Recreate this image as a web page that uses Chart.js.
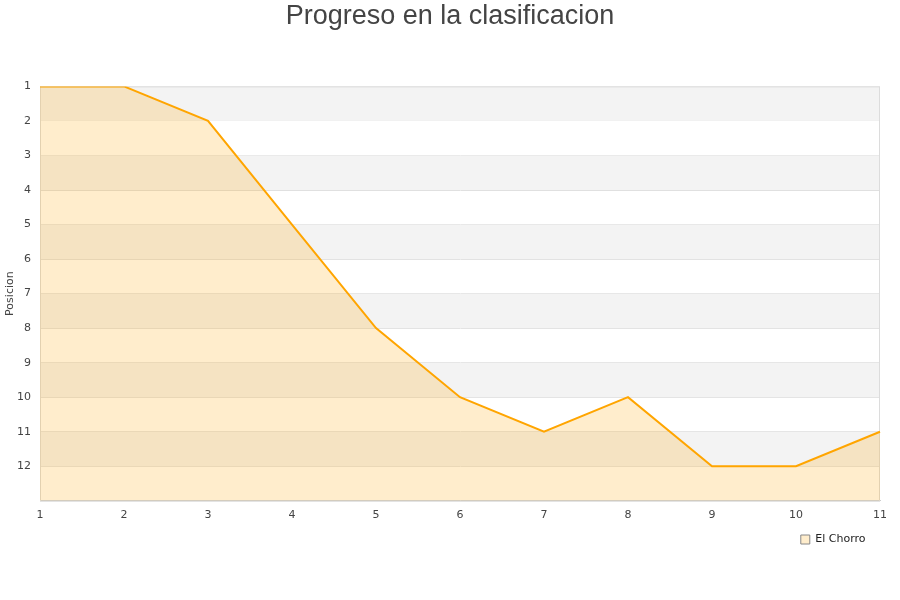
<!DOCTYPE html>
<html>
<head>
<meta charset="utf-8">
<script src="https://cdn.jsdelivr.net/npm/chart.js@4"></script>
<style>
html,body{margin:0;padding:0;background:#fff;}
#wrap{width:900px;height:600px;position:relative;}
</style>
</head>
<body>
<div id="wrap"><canvas id="c" width="900" height="600"></canvas></div>
<script>
const jornadas = [1, 2, 3, 4, 5, 6, 7, 8, 9, 10, 11];
const posiciones = [1, 1, 2, 5, 8, 10, 11, 10, 12, 12, 11];
const serieNombre = 'El Chorro';
const titulo = 'Progreso en la clasificacion';
const ejeY = 'Posicion';

const bandPlugin = {
  id: 'bands',
  beforeDatasetsDraw(chart) {
    const {ctx, chartArea, scales} = chart;
    const y = scales.y;
    ctx.save();
    for (let v = y.min; v < y.max; v++) {
      if ((v - y.min) % 2 === 0) {
        const p1 = y.getPixelForValue(v);
        const p2 = y.getPixelForValue(v + 1);
        ctx.fillStyle = '#f3f3f3';
        ctx.fillRect(chartArea.left, Math.min(p1, p2), chartArea.right - chartArea.left, Math.abs(p2 - p1));
      }
    }
    ctx.strokeStyle = '#dcdcdc';
    ctx.lineWidth = 1;
    ctx.strokeRect(chartArea.left + 0.5, chartArea.top + 0.5, chartArea.right - chartArea.left - 1, chartArea.bottom - chartArea.top);
    ctx.restore();
  }
};

new Chart(document.getElementById('c'), {
  type: 'line',
  data: {
    labels: jornadas,
    datasets: [{
      label: serieNombre,
      data: posiciones,
      borderColor: '#ffa500',
      backgroundColor: 'rgba(255,165,0,0.2)',
      borderWidth: 2,
      pointRadius: 0,
      fill: 'start',
      tension: 0
    }]
  },
  options: {
    responsive: false,
    animation: false,
    layout: {padding: {top: 0, right: 0, bottom: 45, left: 0}},
    plugins: {
      title: {
        display: true,
        text: titulo,
        color: '#444',
        font: {family: 'Liberation Sans', size: 27, weight: 'normal'},
        padding: {top: 0, bottom: 54}
      },
      legend: {
        display: true,
        position: 'bottom',
        align: 'end',
        fullSize: false,
        labels: {
          boxWidth: 9,
          boxHeight: 9,
          color: '#222',
          font: {family: 'DejaVu Sans', size: 11},
          padding: 4,
          generateLabels(chart) {
            return [{
              text: serieNombre + '   ',
              fillStyle: 'rgba(255,165,0,0.2)',
              strokeStyle: '#888',
              lineWidth: 1,
              datasetIndex: 0,
              fontColor: '#222'
            }];
          }
        }
      },
      tooltip: {enabled: false}
    },
    scales: {
      x: {
        offset: false,
        grid: {display: false, drawTicks: false},
        border: {color: '#ccc'},
        ticks: {color: '#444', font: {family: 'DejaVu Sans', size: 11}, padding: 8, maxRotation: 0}
      },
      y: {
        reverse: true,
        min: 1,
        max: 13,
        grid: {color: '#e0e0e0', drawTicks: false},
        border: {color: '#ccc'},
        ticks: {
          stepSize: 1,
          color: '#444',
          font: {family: 'DejaVu Sans', size: 11},
          padding: 9,
          callback: (v) => (v === 13 ? '' : v)
        },
        title: {display: true, text: ejeY, color: '#444', font: {family: 'DejaVu Sans', size: 11}, padding: {top: 4, bottom: 0}},
        afterFit(scale) { scale.width = 40; }
      },
      yr: {
        position: 'right',
        display: true,
        grid: {display: false, drawTicks: false},
        border: {display: false},
        ticks: {display: false},
        afterFit(scale) { scale.width = 20; }
      }
    }
  },
  plugins: [bandPlugin]
});
</script>
</body>
</html>
